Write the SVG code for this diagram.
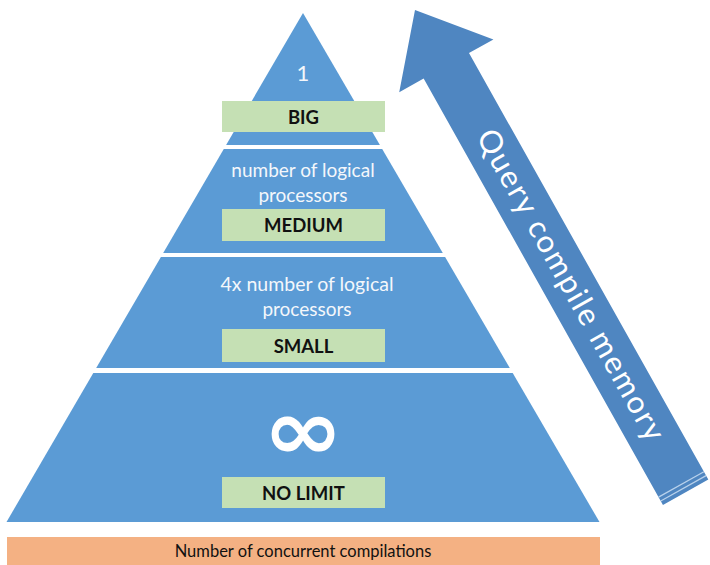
<svg xmlns="http://www.w3.org/2000/svg" width="710" height="565" viewBox="0 0 710 565">
  <style>
    .tier { fill: #5b9bd5; }
    .label { fill: #c5e0b4; }
    .lbl { font-family: Lato, "Liberation Sans", sans-serif; font-weight: bold; font-size: 18.5px; fill: #111; text-anchor: middle; dominant-baseline: central; }
    .desc { font-family: Lato, "Liberation Sans", sans-serif; font-size: 19px; fill: #f4f7fb; text-anchor: middle; dominant-baseline: central; }
    .base { fill: #f4b183; }
    .basetxt { font-family: Lato, "Liberation Sans", sans-serif; font-size: 16.5px; fill: #111; text-anchor: middle; dominant-baseline: central; }
    .arrow { fill: #4f86c1; }
    .arrowtxt { font-family: Lato, "Liberation Sans", sans-serif; font-size: 31px; fill: #ffffff; text-anchor: middle; dominant-baseline: central; }
  </style>
  <rect width="710" height="565" fill="#ffffff"/>

  <g id="memory-arrow" transform="translate(415,10) rotate(-29.3)">
    <polygon class="arrow" points="0,0 54,64 26,64 26,553 -26,553 -26,64 -54,64"/>
    <line x1="-26" y1="544" x2="26" y2="544" stroke="#b9d2ec" stroke-width="1.2"/>
    <line x1="-26" y1="548.5" x2="26" y2="548.5" stroke="#b9d2ec" stroke-width="1.2"/>
    <text class="arrowtxt" x="3" y="316" transform="rotate(90 3 316)" textLength="352" lengthAdjust="spacing">Query compile memory</text>
  </g>

  <g id="tier-big">
    <polygon class="tier" points="303,13 379.9,145 226.1,145"/>
    <text class="desc" x="303" y="72" style="font-size:22px">1</text>
    <rect class="label" x="222" y="101" width="163" height="31"/>
    <text class="lbl" x="303.5" y="116.5">BIG</text>
  </g>

  <g id="tier-medium">
    <polygon class="tier" points="223.8,149 382.2,149 442.8,253 163.2,253"/>
    <text class="desc" x="303" y="169">number of logical</text>
    <text class="desc" x="303" y="194">processors</text>
    <rect class="label" x="222" y="209" width="163" height="32"/>
    <text class="lbl" x="303.5" y="225">MEDIUM</text>
  </g>

  <g id="tier-small">
    <polygon class="tier" points="160.9,257 445.1,257 509.8,368 96.2,368"/>
    <text class="desc" x="307" y="283" style="font-size:19.5px">4x number of logical</text>
    <text class="desc" x="307" y="308">processors</text>
    <rect class="label" x="222" y="329" width="163" height="33"/>
    <text class="lbl" x="303.5" y="345.5">SMALL</text>
  </g>

  <g id="tier-nolimit">
    <polygon class="tier" points="93.3,373 512.7,373 599.5,522 6.5,522"/>
    <text x="303" y="430" transform="translate(303 0) scale(1.15 1) translate(-303 0)" style="font-family:'DejaVu Sans',sans-serif;font-weight:bold;font-size:84px;fill:#ffffff;text-anchor:middle;dominant-baseline:central">∞</text>
    <rect class="label" x="222" y="477" width="163" height="31"/>
    <text class="lbl" x="303.5" y="492.5">NO LIMIT</text>
  </g>

  <g id="base-bar">
    <rect class="base" x="7" y="537" width="593" height="28"/>
    <text class="basetxt" x="303" y="551">Number of concurrent compilations</text>
  </g>
</svg>
